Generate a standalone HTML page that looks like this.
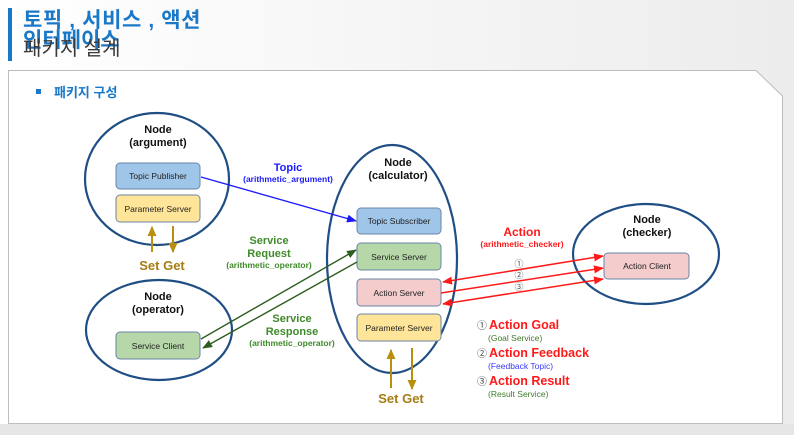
<!DOCTYPE html>
<html><head><meta charset="utf-8"><style>
html,body{margin:0;padding:0;width:794px;height:435px;overflow:hidden;background:#f2f2f2;}
svg{display:block}
text{font-family:"Liberation Sans","Noto Sans CJK KR",sans-serif;}
</style></head><body>
<svg width="794" height="435" viewBox="0 0 794 435" xmlns="http://www.w3.org/2000/svg">
<defs>
<linearGradient id="bg" x1="0" x2="1" y1="0" y2="0"><stop offset="0" stop-color="#ffffff"/><stop offset="1" stop-color="#ececec"/></linearGradient>
<marker id="ab" markerWidth="10" markerHeight="8" refX="9" refY="4" orient="auto" markerUnits="userSpaceOnUse"><path d="M0,0 L10,4 L0,8 z" fill="#1a1aff"/></marker>
<marker id="ag" markerWidth="10" markerHeight="8" refX="9" refY="4" orient="auto" markerUnits="userSpaceOnUse"><path d="M0,0 L10,4 L0,8 z" fill="#2e5e1e"/></marker>
<marker id="ar" markerWidth="10" markerHeight="8" refX="9" refY="4" orient="auto" markerUnits="userSpaceOnUse"><path d="M0,0 L10,4 L0,8 z" fill="#ff1a1a"/></marker>
<marker id="ars" markerWidth="10" markerHeight="8" refX="1" refY="4" orient="auto" markerUnits="userSpaceOnUse"><path d="M10,0 L0,4 L10,8 z" fill="#ff1a1a"/></marker>
<marker id="ao" markerWidth="10" markerHeight="9" refX="9" refY="4.5" orient="auto" markerUnits="userSpaceOnUse"><path d="M0,0 L10,4.5 L0,9 z" fill="#b8900e"/></marker>
</defs>
<rect x="0" y="0" width="794" height="435" fill="url(#bg)"/>
<rect x="0" y="424" width="794" height="11" fill="#e6e6e6"/>
<path d="M8.5,70.5 L756,70.5 L782.5,96 L782.5,423.5 L8.5,423.5 Z" fill="#fff" stroke="#bdbdbd"/>
<rect x="8" y="8" width="4" height="53" fill="#1a78c8"/>
<text x="23" y="27" font-size="21" font-weight="bold" fill="#1a78c8" letter-spacing="0.6">토픽 , 서비스 , 액션</text>
<text x="23" y="47" font-size="21" font-weight="bold" fill="#1a78c8">인터페이스</text>
<text x="23" y="55" font-size="20" fill="#3a3a3a">패키지 설계</text>
<rect x="36" y="89" width="5" height="5" fill="#1a78c8"/>
<text x="54" y="97" font-size="13" font-weight="bold" fill="#1a78c8">패키지 구성</text>

<g fill="none" stroke="#1f4e85" stroke-width="2.2">
<ellipse cx="157" cy="179" rx="72" ry="66"/>
<ellipse cx="159" cy="330" rx="73" ry="50"/>
<ellipse cx="392" cy="259" rx="65" ry="114"/>
<ellipse cx="646" cy="254" rx="73" ry="50"/>
</g>
<g font-size="11" font-weight="bold" fill="#111" text-anchor="middle">
<text x="158" y="133">Node</text><text x="158" y="146">(argument)</text>
<text x="158" y="300">Node</text><text x="158" y="313">(operator)</text>
<text x="398" y="166">Node</text><text x="398" y="179">(calculator)</text>
<text x="647" y="223">Node</text><text x="647" y="236">(checker)</text>
</g>
<g stroke="#6a85a8" stroke-width="1">
<rect x="116" y="163" width="84" height="26" rx="4" fill="#9fc5e8"/>
<rect x="116" y="195" width="84" height="27" rx="4" fill="#ffe599"/>
<rect x="116" y="332" width="84" height="27" rx="4" fill="#b6d7a8"/>
<rect x="357" y="208" width="84" height="26" rx="4" fill="#9fc5e8"/>
<rect x="357" y="243" width="84" height="27" rx="4" fill="#b6d7a8"/>
<rect x="357" y="279" width="84" height="27" rx="4" fill="#f4cccc"/>
<rect x="357" y="314" width="84" height="27" rx="4" fill="#ffe599"/>
<rect x="604" y="253" width="85" height="26" rx="4" fill="#f4cccc"/>
</g>
<g font-size="8.5" fill="#222" text-anchor="middle">
<text x="158" y="179">Topic Publisher</text>
<text x="158" y="212">Parameter Server</text>
<text x="158" y="349">Service Client</text>
<text x="399" y="224">Topic Subscriber</text>
<text x="399" y="260">Service Server</text>
<text x="399" y="296">Action Server</text>
<text x="399" y="331">Parameter Server</text>
<text x="647" y="269">Action Client</text>
</g>
<g stroke="#b8900e" stroke-width="2">
<line x1="152" y1="252" x2="152" y2="227" marker-end="url(#ao)"/>
<line x1="173" y1="226" x2="173" y2="252" marker-end="url(#ao)"/>
<line x1="391" y1="388" x2="391" y2="350" marker-end="url(#ao)"/>
<line x1="412" y1="348" x2="412" y2="389" marker-end="url(#ao)"/>
</g>
<g font-size="13" font-weight="bold" fill="#a57d12" text-anchor="middle">
<text x="162" y="270">Set Get</text>
<text x="401" y="403">Set Get</text>
</g>
<line x1="201" y1="177" x2="356" y2="221" stroke="#1a1aff" stroke-width="1.4" marker-end="url(#ab)"/>
<text x="288" y="171" font-size="11" font-weight="bold" fill="#1a1aff" text-anchor="middle">Topic</text>
<text x="288" y="182" font-size="8.5" font-weight="bold" fill="#1a1aff" text-anchor="middle">(arithmetic_argument)</text>
<line x1="201" y1="339" x2="356" y2="250" stroke="#2e5e1e" stroke-width="1.4" marker-end="url(#ag)"/>
<line x1="357" y1="262" x2="203" y2="348" stroke="#2e5e1e" stroke-width="1.4" marker-end="url(#ag)"/>
<g font-weight="bold" fill="#3f8a2a" text-anchor="middle">
<text x="269" y="244" font-size="11">Service</text>
<text x="269" y="257" font-size="11">Request</text>
<text x="269" y="268" font-size="8.5">(arithmetic_operator)</text>
<text x="292" y="322" font-size="11">Service</text>
<text x="292" y="335" font-size="11">Response</text>
<text x="292" y="346" font-size="8.5">(arithmetic_operator)</text>
</g>
<g stroke="#ff1a1a" stroke-width="1.5">
<line x1="443" y1="282" x2="603" y2="256" marker-start="url(#ars)" marker-end="url(#ar)"/>
<line x1="441" y1="293" x2="603" y2="268" marker-end="url(#ar)"/>
<line x1="443" y1="304" x2="603" y2="279" marker-start="url(#ars)" marker-end="url(#ar)"/>
</g>
<g font-size="9" fill="#555" text-anchor="middle">
<text x="519" y="267">①</text><text x="519" y="278">②</text><text x="519" y="290">③</text>
</g>
<text x="522" y="236" font-size="12" font-weight="bold" fill="#ff1a1a" text-anchor="middle">Action</text>
<text x="522" y="247" font-size="8.5" font-weight="bold" fill="#ff1a1a" text-anchor="middle">(arithmetic_checker)</text>
<g>
<text x="477" y="329" font-size="10" fill="#444">①</text>
<text x="489" y="329" font-size="12.5" font-weight="bold" fill="#ff1a1a">Action Goal</text>
<text x="488" y="341" font-size="8.5" fill="#3f7a2a">(Goal Service)</text>
<text x="477" y="357" font-size="10" fill="#444">②</text>
<text x="489" y="357" font-size="12.5" font-weight="bold" fill="#ff1a1a">Action Feedback</text>
<text x="488" y="369" font-size="8.5" fill="#3a3aff">(Feedback Topic)</text>
<text x="477" y="385" font-size="10" fill="#444">③</text>
<text x="489" y="385" font-size="12.5" font-weight="bold" fill="#ff1a1a">Action Result</text>
<text x="488" y="397" font-size="8.5" fill="#3f7a2a">(Result Service)</text>
</g>
</svg>
</body></html>
